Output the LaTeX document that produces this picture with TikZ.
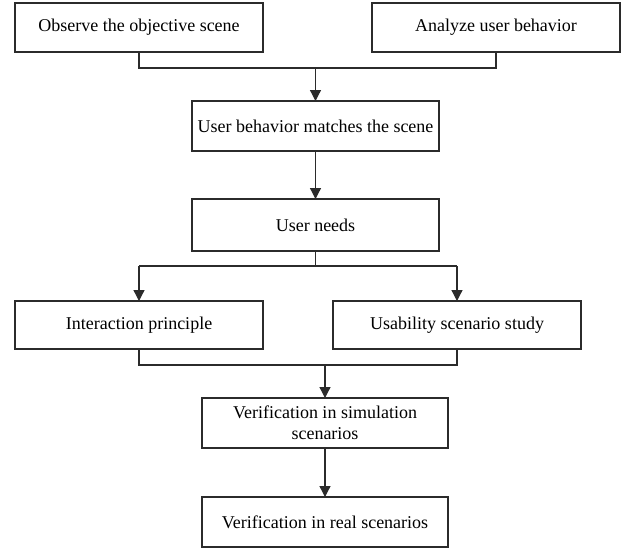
\documentclass[tikz,border=0pt]{standalone}
\usepackage{fontspec}
\setmainfont{Liberation Serif}
\usetikzlibrary{arrows.meta}
\definecolor{ink}{HTML}{2B2B2B}
\begin{document}
\begin{tikzpicture}[x=1pt,y=1pt,
  box/.style={draw=ink, line width=1.3pt, fill=white, inner sep=2pt, outer sep=0pt,
    text=black, align=center, font=\fontsize{18}{21}\selectfont},
  conn/.style={draw=ink, line width=1.3pt},
  arr/.style={conn, -{Triangle[width=11pt,length=11pt]}}]
\useasboundingbox (0,0) rectangle (627,-549);
\node[box, minimum width=248pt, minimum height=49pt] (b1) at (139,-27.5) {Observe the objective scene};
\node[box, minimum width=248pt, minimum height=49pt] (b2) at (496,-27.5) {Analyze user behavior};
\node[box, minimum width=247pt, minimum height=50pt] (b3) at (315.5,-126) {User behavior matches the scene};
\node[box, minimum width=247pt, minimum height=52pt] (b4) at (315.5,-225) {User needs};
\node[box, minimum width=248pt, minimum height=48pt] (b5) at (139,-325) {Interaction principle};
\node[box, minimum width=248pt, minimum height=48pt] (b6) at (457,-325) {Usability scenario study};
\node[box, minimum width=246pt, minimum height=50pt] (b7) at (325,-423) {Verification in simulation\\scenarios};
\node[box, minimum width=246pt, minimum height=50pt] (b8) at (325,-522) {Verification in real scenarios};
\coordinate (j1) at (0,-68);
\coordinate (j2) at (0,-266);
\coordinate (j3) at (0,-365);
% top merge
\draw[conn] (b1.south) -- (b1.south |- j1) -- (b2.south |- j1) -- (b2.south);
\draw[arr] (b3.north |- j1) -- (b3.north);
\draw[arr] (b3.south) -- (b4.north);
% split
\draw[conn] (b4.south) -- (b4.south |- j2);
\draw[conn] (b5.north |- j2) -- (b6.north |- j2);
\draw[arr] (b5.north |- j2) -- (b5.north);
\draw[arr] (b6.north |- j2) -- (b6.north);
% lower merge
\draw[conn] (b5.south) -- (b5.south |- j3) -- (b6.south |- j3) -- (b6.south);
\draw[arr] (b7.north |- j3) -- (b7.north);
\draw[arr] (b7.south) -- (b8.north);
\end{tikzpicture}
\end{document}
